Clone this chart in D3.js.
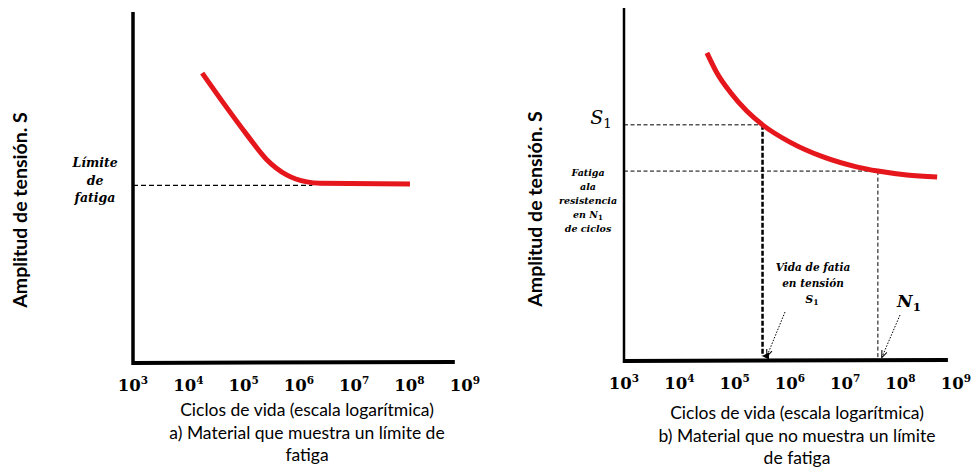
<!DOCTYPE html>
<html>
<head>
<meta charset="utf-8">
<script src="https://cdn.jsdelivr.net/npm/d3@7"></script>
<style>
  body { margin: 0; background: #fff; }
  .serif { font-family: "DejaVu Serif", "Liberation Serif", serif; font-weight: bold; font-style: italic; }
  .sans { font-family: Lato, "Open Sans", sans-serif; }
</style>
</head>
<body>
<svg id="chart" width="972" height="469"></svg>
<script>
// decades shown on the x axis (10^3 ... 10^9)
const decades = [3, 4, 5, 6, 7, 8, 9];

// a) material with a fatigue limit: cycles N, stress amplitude S (arbitrary units 0-100)
const curveA_N = [1.78e4, 4.3e4, 1.15e5, 2.6e5, 6.0e5, 1.4e6, 2.4e6, 1.02e8];
const curveA_S = [82.6, 74.1, 65.0, 58.0, 53.6, 51.6, 51.2, 51.0];
const fatigueLimitA = 50.6;
const fatigueLimitEndA = 1.75e6;

// b) material without a fatigue limit
const curveB_N = [3.16e4, 4.8e4, 8.3e4, 1.66e5, 3.2e5, 1.0e6, 4.0e6, 1.6e7, 3.9e7, 1.3e8, 4.6e8];
const curveB_S = [87.3, 81.6, 76.2, 70.8, 66.9, 62.0, 57.8, 55.0, 53.8, 52.7, 52.1];
const s1Point = [3.2e5, 66.9];
const n1Point = [3.9e7, 53.8];

const captionLine = "Ciclos de vida (escala logarítmica)";
const captionA = ["a) Material que muestra un límite de", "fatiga"];
const captionB = ["b) Material que no muestra un límite", "de fatiga"];
const yTitle = "Amplitud de tensión. S";

const svg = d3.select("#chart");
svg.append("rect").attr("width", 972).attr("height", 469).attr("fill", "#fff");

const defs = svg.append("defs");
defs.append("marker").attr("id", "arrowBig")
  .attr("viewBox", "0 0 10 10").attr("refX", 5).attr("refY", 9)
  .attr("markerWidth", 3).attr("markerHeight", 3).attr("orient", "auto-start-reverse")
  .append("path").attr("d", "M0,0 L10,0 L5,10 Z").attr("fill", "#000");
defs.append("marker").attr("id", "arrowSmall")
  .attr("viewBox", "0 0 10 10").attr("refX", 9).attr("refY", 5)
  .attr("markerWidth", 7).attr("markerHeight", 7).attr("orient", "auto")
  .append("path").attr("d", "M0,1 L10,5 L0,9").attr("fill", "none").attr("stroke", "#000").attr("stroke-width", 1.5);

function drawPanel(p) {
  const x = d3.scaleLog().domain([1e3, 1e9]).range([p.x0, p.x0 + 6 * 55.3]);
  const y = d3.scaleLinear().domain([0, 100]).range([p.yBottom, p.yTop]);
  const g = svg.append("g");

  // axes
  g.append("line").attr("x1", p.x0).attr("x2", p.x0)
    .attr("y1", p.yTop).attr("y2", p.yBottom + 2)
    .attr("stroke", "#000").attr("stroke-width", p.yAxisWidth);
  g.append("line").attr("x1", p.x0 - 1).attr("x2", x(p.xEnd))
    .attr("y1", p.yBottom).attr("y2", p.yBottom - 1)
    .attr("stroke", "#000").attr("stroke-width", 4);

  // tick labels 10^n
  const tl = g.selectAll(".tick").data(decades).enter().append("text")
    .attr("class", "tick")
    .attr("x", d => x(Math.pow(10, d)))
    .attr("y", p.tickY)
    .attr("text-anchor", "middle")
    .style("font-family", "'DejaVu Serif', 'Liberation Serif', serif")
    .style("font-weight", "bold")
    .style("font-size", "16.5px");
  tl.append("tspan").text("10");
  tl.append("tspan").attr("dy", -7).style("font-size", "10.5px").text(d => d);

  // y title
  g.append("text").attr("class", "sans")
    .attr("transform", `translate(${p.titleX},${p.titleY}) rotate(-90)`)
    .attr("text-anchor", "middle")
    .style("font-weight", "bold").style("font-size", "19.5px")
    .text(yTitle);

  // captions
  const caps = [captionLine].concat(p.caption);
  g.selectAll(".cap").data(caps).enter().append("text")
    .attr("class", "sans")
    .attr("x", p.capX)
    .attr("y", (d, i) => p.capY + i * 22.5)
    .attr("text-anchor", "middle")
    .style("font-size", "17.5px")
    .text(d => d);

  return { g, x, y };
}

const line = (x, y) => d3.line().x(d => x(d[0])).y(d => y(d[1])).curve(d3.curveMonotoneX);

// ---------- panel a ----------
const a = drawPanel({
  x0: 133, yTop: 12, yBottom: 363, yAxisWidth: 3.5, xEnd: 6.6e8,
  tickY: 391, titleX: 27, titleY: 210, capX: 307, capY: 416, caption: captionA
});
a.g.append("line")
  .attr("x1", a.x(1e3)).attr("x2", a.x(fatigueLimitEndA))
  .attr("y1", a.y(fatigueLimitA)).attr("y2", a.y(fatigueLimitA))
  .attr("stroke", "#000").attr("stroke-width", 1.2).attr("stroke-dasharray", "5,3");
a.g.append("path")
  .attr("d", line(a.x, a.y)(curveA_N.map((n, i) => [n, curveA_S[i]])))
  .attr("fill", "none").attr("stroke", "#e5161c").attr("stroke-width", 5);
a.g.selectAll(".lim").data(["Límite", "de", "fatiga"]).enter().append("text")
  .attr("class", "serif")
  .attr("x", 95).attr("y", (d, i) => 167 + i * 17.5)
  .attr("text-anchor", "middle").style("font-size", "12.5px")
  .text(d => d);

// ---------- panel b ----------
const b = drawPanel({
  x0: 624, yTop: 8, yBottom: 361, yAxisWidth: 2.5, xEnd: 7.2e8,
  tickY: 389, titleX: 542, titleY: 209, capX: 797, capY: 419, caption: captionB
});
// guide lines
b.g.append("line")
  .attr("x1", b.x(1e3)).attr("x2", b.x(s1Point[0]))
  .attr("y1", b.y(s1Point[1])).attr("y2", b.y(s1Point[1]))
  .attr("stroke", "#000").attr("stroke-width", 1).attr("stroke-dasharray", "4,2.5");
b.g.append("line")
  .attr("x1", b.x(1e3)).attr("x2", b.x(n1Point[0]))
  .attr("y1", b.y(n1Point[1])).attr("y2", b.y(n1Point[1]))
  .attr("stroke", "#000").attr("stroke-width", 1).attr("stroke-dasharray", "4,2.5");
b.g.append("line")
  .attr("x1", b.x(s1Point[0])).attr("x2", b.x(s1Point[0]))
  .attr("y1", b.y(s1Point[1])).attr("y2", b.y(0) - 5)
  .attr("stroke", "#000").attr("stroke-width", 2.5).attr("stroke-dasharray", "5,2")
  .attr("marker-end", "url(#arrowBig)");
b.g.append("line")
  .attr("x1", b.x(n1Point[0])).attr("x2", b.x(n1Point[0]))
  .attr("y1", b.y(n1Point[1])).attr("y2", b.y(0))
  .attr("stroke", "#000").attr("stroke-width", 1).attr("stroke-dasharray", "4,2.5");
b.g.append("path")
  .attr("d", line(b.x, b.y)(curveB_N.map((n, i) => [n, curveB_S[i]])))
  .attr("fill", "none").attr("stroke", "#e5161c").attr("stroke-width", 5);

// dotted pointer arrows
const pointers = [[[785, 312], [767, 356]], [[900, 315], [882, 357]]];
b.g.selectAll(".ptr").data(pointers).enter().append("line")
  .attr("x1", d => d[0][0]).attr("y1", d => d[0][1])
  .attr("x2", d => d[1][0]).attr("y2", d => d[1][1])
  .attr("stroke", "#000").attr("stroke-width", 1).attr("stroke-dasharray", "1.5,1.5")
  .attr("marker-end", "url(#arrowSmall)");

// labels
function subLabel(g, xPos, yPos, main, sub, size) {
  const t = g.append("text").attr("class", "serif")
    .attr("x", xPos).attr("y", yPos).attr("text-anchor", "middle")
    .style("font-size", size + "px");
  t.append("tspan").text(main);
  t.append("tspan").attr("dy", size * 0.22).style("font-size", (size * 0.7) + "px").style("font-style", "normal").text(sub);
  return t;
}
subLabel(b.g, 601, 124, "S", "1", 19).style("font-weight", "normal");
subLabel(b.g, 909, 307, "N", "1", 17);

const fatigaLines = ["Fatiga", "ala", "resistencia"];
b.g.selectAll(".fat").data(fatigaLines).enter().append("text")
  .attr("class", "serif")
  .attr("x", 588).attr("y", (d, i) => 176 + i * 14)
  .attr("text-anchor", "middle").style("font-size", "9.5px")
  .text(d => d);
const enN = b.g.append("text").attr("class", "serif")
  .attr("x", 588).attr("y", 218).attr("text-anchor", "middle").style("font-size", "9.5px");
enN.append("tspan").text("en  N");
enN.append("tspan").attr("dy", 2).style("font-size", "7px").style("font-style", "normal").text("1");
b.g.append("text").attr("class", "serif")
  .attr("x", 588).attr("y", 232).attr("text-anchor", "middle").style("font-size", "9.5px")
  .text("de ciclos");

b.g.selectAll(".vida").data(["Vida de fatia", "en tensión"]).enter().append("text")
  .attr("class", "serif")
  .attr("x", 813).attr("y", (d, i) => 271 + i * 16)
  .attr("text-anchor", "middle").style("font-size", "10.5px")
  .text(d => d);
subLabel(b.g, 812, 303, "S", "1", 11);
</script>
</body>
</html>
